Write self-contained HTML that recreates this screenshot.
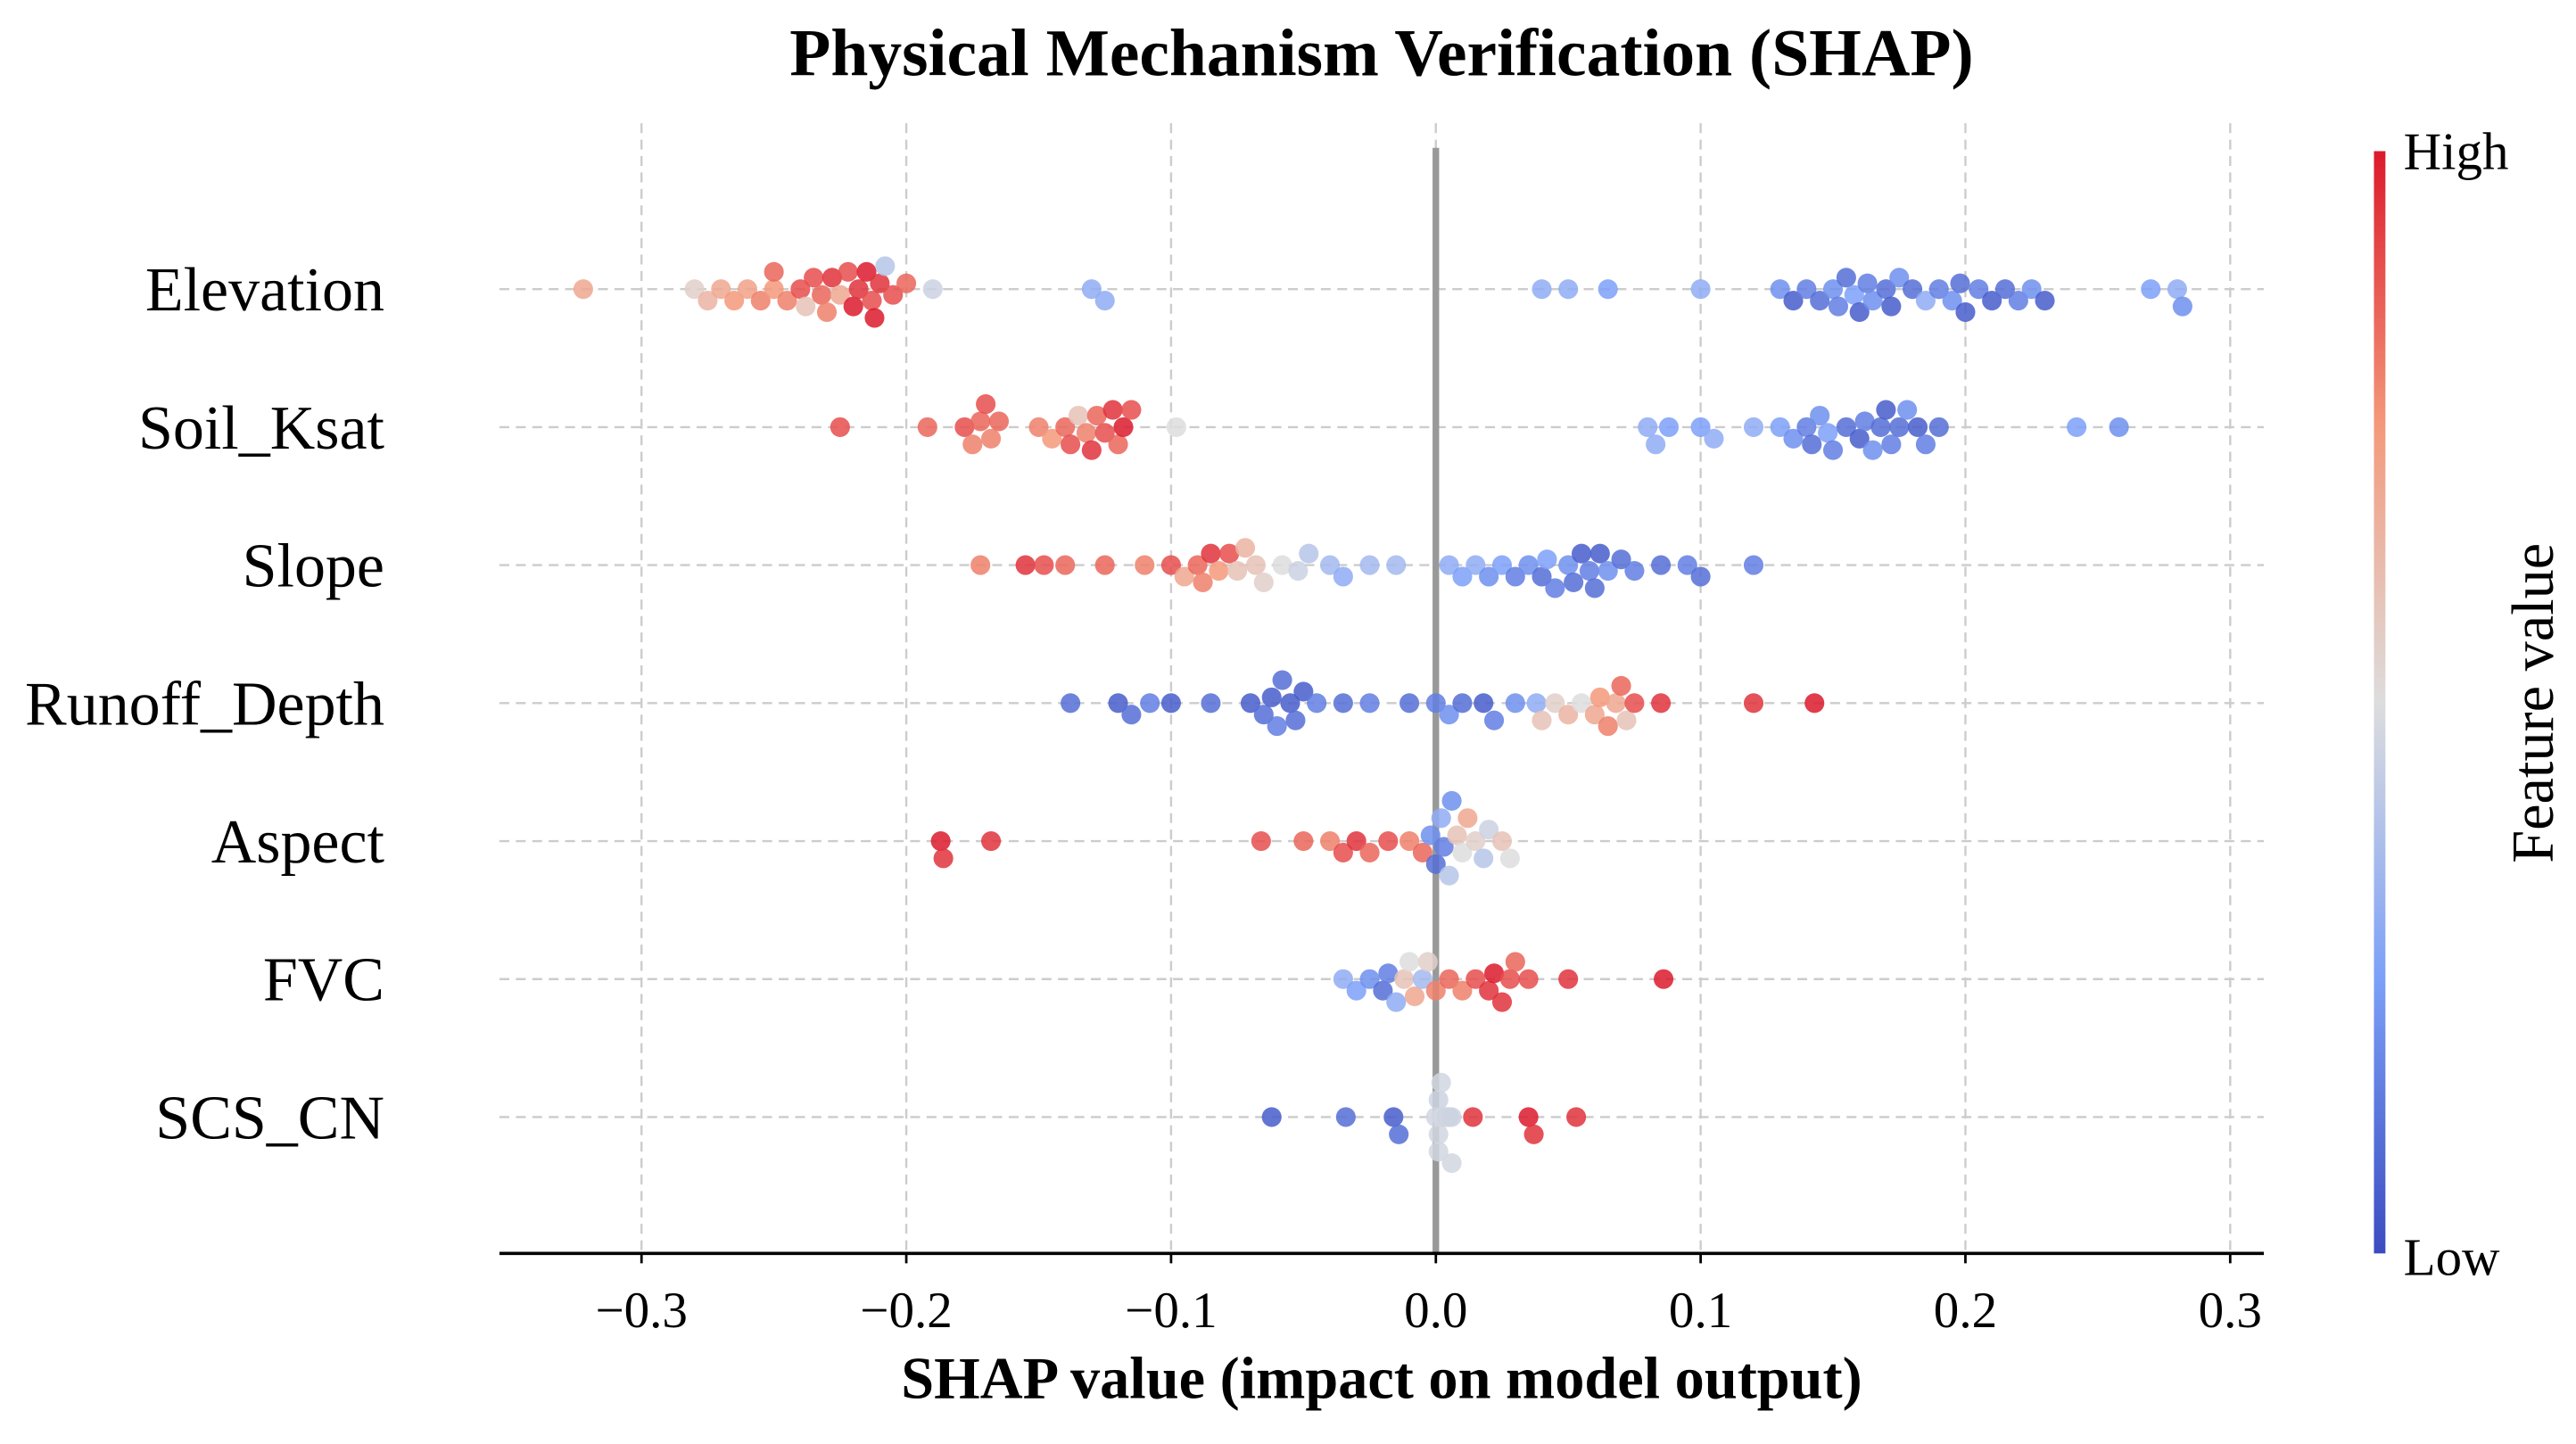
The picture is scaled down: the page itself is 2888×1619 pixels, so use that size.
<!DOCTYPE html>
<html><head><meta charset="utf-8"><style>
html,body{margin:0;padding:0;background:#fff;}
svg{display:block;font-family:"Liberation Serif",serif;}
</style></head><body>
<svg id="chart" width="2888" height="1619" viewBox="0 0 1568 879" xmlns="http://www.w3.org/2000/svg">
<defs>
<linearGradient id="cbar" x1="0" y1="1" x2="0" y2="0">
<stop offset="0" stop-color="#3b4cc0"/><stop offset="0.25" stop-color="#7ca0f8"/>
<stop offset="0.5" stop-color="#dddddd"/><stop offset="0.75" stop-color="#f4997b"/>
<stop offset="1" stop-color="#dc1a2c"/></linearGradient>
</defs>
<text x="841" y="46" text-anchor="middle" font-size="41" font-weight="bold">Physical Mechanism Verification (SHAP)</text>
<g id="grid"></g><g id="points"></g><g id="axes"></g>
<rect x="1445" y="92" width="7" height="671" fill="url(#cbar)"/>
<text x="1463" y="103" font-size="32">High</text>
<text x="1463" y="776" font-size="32">Low</text>
<text transform="translate(1554,428) rotate(-90)" text-anchor="middle" font-size="36">Feature value</text>
<text x="841" y="851" text-anchor="middle" font-size="36" font-weight="bold">SHAP value (impact on model output)</text>
</svg>
<script>
const features=["Elevation","Soil_Ksat","Slope","Runoff_Depth","Aspect","FVC","SCS_CN"];
const xTicks=[-0.3,-0.2,-0.1,0.0,0.1,0.2,0.3];
const elevShap=[-0.322,-0.28,-0.275,-0.27,-0.265,-0.26,-0.255,-0.25,-0.25,-0.245,-0.24,-0.238,-0.235,-0.232,-0.23,-0.228,-0.225,-0.222,-0.22,-0.218,-0.215,-0.213,-0.212,-0.21,-0.208,-0.205,-0.2,-0.19,-0.13,-0.125,0.04,0.05,0.065,0.1,0.13,0.135,0.14,0.145,0.15,0.152,0.155,0.158,0.16,0.163,0.165,0.17,0.172,0.175,0.18,0.185,0.19,0.195,0.198,0.2,0.205,0.21,0.215,0.22,0.225,0.23,0.27,0.28,0.282];
const elevFv=[.7,.55,.65,.7,.75,.72,.8,.75,.85,.8,.9,.6,.9,.85,.8,.95,.7,.9,1,.95,1,.9,1,.95,.4,.9,.85,.45,.3,.3,.3,.3,.25,.3,.2,.05,.15,.1,.2,.15,.1,.25,.05,.15,.2,.1,.05,.2,.1,.3,.15,.2,.1,.05,.15,.05,.1,.15,.2,.05,.25,.3,.2];
const ksatShap=[-0.225,-0.192,-0.178,-0.175,-0.172,-0.17,-0.168,-0.165,-0.15,-0.145,-0.14,-0.138,-0.135,-0.132,-0.13,-0.128,-0.125,-0.122,-0.12,-0.118,-0.115,-0.098,0.08,0.083,0.088,0.1,0.105,0.12,0.13,0.135,0.14,0.142,0.145,0.148,0.15,0.155,0.16,0.162,0.165,0.168,0.17,0.172,0.175,0.178,0.182,0.185,0.19,0.242,0.258];
const ksatFv=[.9,.85,.9,.8,.85,.9,.8,.85,.8,.75,.85,.9,.6,.8,.95,.85,.9,.95,.85,1,.9,.5,.3,.3,.25,.25,.3,.3,.25,.2,.15,.1,.2,.25,.15,.1,.05,.15,.2,.1,.05,.15,.1,.2,.05,.15,.1,.25,.2];
const slopeShap=[-0.172,-0.155,-0.148,-0.14,-0.125,-0.11,-0.1,-0.095,-0.09,-0.088,-0.085,-0.082,-0.078,-0.075,-0.072,-0.068,-0.065,-0.058,-0.052,-0.048,-0.04,-0.035,-0.025,-0.015,0.005,0.01,0.015,0.02,0.025,0.03,0.035,0.04,0.042,0.045,0.05,0.052,0.055,0.058,0.06,0.062,0.065,0.07,0.075,0.085,0.095,0.1,0.12];
const slopeFv=[.8,.95,.9,.85,.85,.8,.9,.7,.85,.8,.95,.75,.9,.6,.65,.6,.55,.5,.45,.4,.35,.3,.35,.35,.3,.25,.3,.2,.25,.15,.2,.1,.25,.15,.2,.1,.05,.15,.1,.05,.2,.1,.15,.1,.15,.1,.15];
const runoffShap=[-0.138,-0.12,-0.115,-0.108,-0.1,-0.085,-0.07,-0.065,-0.062,-0.06,-0.058,-0.055,-0.053,-0.05,-0.045,-0.035,-0.025,-0.01,0.0,0.005,0.01,0.018,0.022,0.03,0.038,0.04,0.045,0.05,0.055,0.06,0.062,0.065,0.068,0.07,0.072,0.075,0.085,0.12,0.143];
const runoffFv=[.1,.05,.1,.15,.05,.1,.05,.1,.05,.15,.1,.05,.1,.05,.15,.1,.15,.1,.15,.2,.1,.05,.15,.2,.3,.6,.55,.65,.5,.7,.75,.8,.7,.85,.6,.9,.95,.95,1];
const aspectShap=[-0.187,-0.186,-0.168,-0.066,-0.05,-0.04,-0.035,-0.03,-0.025,-0.018,-0.01,-0.005,-0.002,0.0,0.002,0.005,0.008,0.01,0.012,0.015,0.018,0.02,0.025,0.028,0.003,0.006];
const aspectFv=[1,.95,.95,.9,.85,.8,.9,.95,.85,.9,.8,.85,.2,.1,.3,.4,.6,.5,.7,.55,.4,.45,.6,.5,.15,.2];
const fvcShap=[-0.035,-0.03,-0.025,-0.02,-0.018,-0.015,-0.012,-0.01,-0.008,-0.005,-0.003,0,0.005,0.01,0.015,0.02,0.022,0.025,0.028,0.03,0.035,0.05,0.086];
const fvcFv=[.3,.25,.2,.1,.15,.3,.6,.5,.7,.35,.55,.8,.85,.8,.9,.95,1,.95,.9,.85,.9,.95,1];
const scsShap=[-0.062,-0.034,-0.016,-0.014,0.0,0.001,0.001,0.002,0.002,0.002,0.003,0.003,0.003,0.003,0.004,0.004,0.004,0.005,0.005,0.005,0.006,0.006,0.001,0.002,0.003,0.004,0.014,0.035,0.037,0.053];
const scsFv=[.05,.1,.05,.1,.47,.47,.46,.47,.48,.46,.47,.46,.48,.47,.47,.46,.48,.47,.46,.47,.47,.46,.47,.47,.48,.46,.95,1,.95,.95];
const shapSeries=[elevShap,ksatShap,slopeShap,runoffShap,aspectShap,fvcShap,scsShap];
const fvSeries=[elevFv,ksatFv,slopeFv,runoffFv,aspectFv,fvcFv,scsFv];

const NS="http://www.w3.org/2000/svg";
const X0=874, XS=1611.7, ROW0=176, ROWH=84, XL=304, XR=1378, AXY=763;
const xScale=v=>X0+v*XS;
const yScale=i=>ROW0+i*ROWH;
function mk(tag,attrs,parent){const e=document.createElementNS(NS,tag);for(const k in attrs)e.setAttribute(k,attrs[k]);parent.appendChild(e);return e;}
const stops=[[0,[59,76,192]],[0.25,[124,160,248]],[0.5,[221,221,221]],[0.75,[244,153,123]],[1,[220,26,44]]];
function color(t){for(let i=1;i<stops.length;i++){if(t<=stops[i][0]){const a=stops[i-1],b=stops[i];const f=(t-a[0])/(b[0]-a[0]);return 'rgb('+a[1].map((c,j)=>Math.round(c+(b[1][j]-c)*f)).join(',')+')';}}return 'rgb(220,26,44)';}
const grid=document.getElementById('grid'),pts=document.getElementById('points'),axes=document.getElementById('axes');
xTicks.forEach(t=>{
  const l=mk('line',{x1:xScale(t),x2:xScale(t),y1:75,y2:AXY,stroke:'#cccccc','stroke-width':1.3,'stroke-dasharray':'6,4'},grid);
  
  
});
features.forEach((f,i)=>{
  const l=mk('line',{x1:XL,x2:XR,y1:yScale(i),y2:yScale(i),stroke:'#cccccc','stroke-width':1.3,'stroke-dasharray':'6,4'},grid);
  
  
  const tx=mk('text',{x:234,y:yScale(i)+13,'text-anchor':'end','font-size':38},axes);
  tx.textContent=f;
  
  
});
const zl=mk('line',{x1:X0,x2:X0,y1:90,y2:AXY,stroke:'#999999','stroke-width':4},grid);


const R=6, D=2*R*0.85;
shapSeries.forEach((vals,i)=>{
  const order=vals.map((v,k)=>k).sort((a,b)=>vals[a]-vals[b]);
  const placed=[];
  order.forEach(k=>{
    const px=xScale(vals[k]);let off=0;
    for(let s=0;s<40;s++){
      const cand=(s%2?1:-1)*Math.ceil(s/2)*3.5;
      if(Math.abs(cand)>30){off=0;break;}
      if(placed.every(p=>Math.hypot(p[0]-px,p[1]-cand)>=D)){off=cand;break;}
    }
    placed.push([px,off]);
    const c=mk('circle',{cx:px,cy:yScale(i)+off,r:R,fill:color(fvSeries[i][k]),'fill-opacity':0.85},pts);
    
    
  });
});
const ax=mk('line',{x1:XL,x2:XR,y1:AXY,y2:AXY,stroke:'#000','stroke-width':2},axes);


xTicks.forEach(t=>{
  const tk=mk('line',{x1:xScale(t),x2:xScale(t),y1:AXY,y2:AXY+6,stroke:'#000','stroke-width':1.5},axes);
  
  
  const tl=mk('text',{x:xScale(t),y:AXY+45,'text-anchor':'middle','font-size':31},axes);
  tl.textContent=(t<0?'\u2212':'')+Math.abs(t).toFixed(1);
  
  
});
</script>
</body></html>
